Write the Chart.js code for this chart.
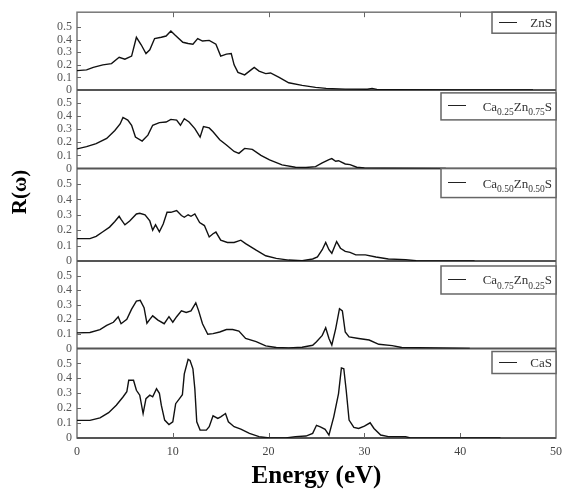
<!DOCTYPE html>
<html>
<head>
<meta charset="utf-8">
<script src="https://cdn.jsdelivr.net/npm/chart.js@4.4.0/dist/chart.umd.min.js"></script>
<style>
  html, body { margin: 0; padding: 0; background: #fff; }
</style>
</head>
<body>
<canvas id="reflectivity" width="569" height="492"></canvas>
<script>
// reflectivity R(w) vs photon energy for the Ca(x)Zn(1-x)S series, one panel per composition
var panelNames = ['ZnS', 'Ca0.25Zn0.75S', 'Ca0.50Zn0.50S', 'Ca0.75Zn0.25S', 'CaS'];

var energyZnS = [0, 1.0, 1.7, 2.7, 3.6, 4.4, 5.0, 5.7, 6.2, 6.7, 7.2, 7.6, 8.1, 8.8, 9.3, 9.8, 10.2, 11.05, 11.6, 12.1,
  12.6, 13.1, 13.8, 14.5, 15.0, 15.6, 16.1, 16.4, 16.8, 17.5, 18.0, 18.5, 19.0, 19.7, 20.2, 21.1, 22.1, 23.5, 24.9, 26.0,
  28.0, 30.3, 30.8, 31.3, 33.0, 40.0, 47.6];
var rZnS = [.154, .16, .18, .20, .21, .26, .245, .27, .42, .36, .29, .32, .41, .42, .43, .47, .44, .38, .37, .365,
  .41, .39, .395, .365, .27, .285, .29, .20, .14, .12, .15, .18, .15, .13, .135, .10, .057, .036, .02, .012,
  .006, .005, .012, .004, .002, 0, 0];

var energyCa25 = [0, 1.0, 2.0, 3.1, 3.95, 4.5, 4.8, 5.3, 5.7, 6.1, 6.8, 7.4, 7.9, 8.6, 9.3, 9.8, 10.4, 10.8, 11.2, 11.7,
  12.3, 12.85, 13.2, 13.8, 14.2, 14.9, 15.6, 16.4, 16.9, 17.5, 18.3, 19.2, 20.1, 21.4, 22.8, 23.9, 24.9, 25.6, 26.3, 26.6,
  27.0, 27.3, 28.0, 28.5, 29.2, 30.0, 32.0, 38.5];
var rCa25 = [.15, .167, .19, .23, .29, .34, .39, .37, .33, .24, .21, .255, .33, .35, .355, .375, .37, .33, .38, .355,
  .305, .24, .32, .31, .28, .22, .18, .13, .116, .154, .146, .10, .066, .028, .01, .008, .015, .043, .068, .076,
  .056, .06, .035, .03, .01, .004, .002, 0];

var energyCa50 = [0, 1.35, 2.0, 2.7, 3.4, 3.95, 4.4, 4.6, 5.0, 5.5, 6.2, 6.55, 7.1, 7.6, 7.9, 8.2, 8.6, 9.0, 9.4, 9.8,
  10.4, 10.9, 11.2, 11.6, 11.9, 12.3, 12.8, 13.3, 13.8, 14.2, 14.5, 15.0, 15.7, 16.4, 17.1, 17.6, 18.7, 19.7, 20.8, 22.1,
  23.5, 24.6, 25.1, 25.6, 25.96, 26.3, 26.6, 27.1, 27.5, 28.0, 28.5, 29.1, 30.1, 31.2, 32.5, 34.3, 35.4, 41.5];
var rCa50 = [.145, .145, .16, .19, .22, .256, .29, .27, .235, .26, .305, .31, .30, .26, .20, .235, .19, .24, .316, .316,
  .327, .295, .284, .30, .29, .305, .25, .23, .156, .177, .188, .135, .12, .12, .135, .113, .07, .034, .017, .006,
  .002, .013, .026, .073, .12, .073, .05, .126, .083, .062, .056, .04, .04, .026, .013, .009, .002, 0];

var energyCa75 = [0, 1.35, 2.4, 3.1, 3.8, 4.3, 4.6, 5.2, 5.7, 6.2, 6.6, 7.0, 7.3, 7.6, 7.9, 8.45, 9.1, 9.6, 10.0, 10.4,
  10.9, 11.4, 11.9, 12.4, 12.7, 13.1, 13.65, 14.2, 14.9, 15.6, 16.25, 16.9, 17.6, 18.7, 19.7, 20.8, 22.1, 23.5, 24.6, 25.0,
  25.6, 25.96, 26.3, 26.6, 27.0, 27.4, 27.7, 28.0, 28.4, 29.4, 30.5, 31.5, 32.9, 33.9, 41.0];
var rCa75 = [.107, .11, .13, .158, .18, .218, .17, .20, .27, .325, .33, .28, .173, .20, .224, .195, .17, .218, .18, .218,
  .258, .247, .258, .313, .258, .17, .098, .102, .113, .13, .13, .12, .069, .047, .018, .007, .004, .009, .022, .047,
  .09, .142, .069, .024, .135, .273, .258, .113, .08, .069, .058, .029, .02, .007, 0];

var energyCaS = [0, 1.35, 2.4, 3.3, 4.1, 4.8, 5.2, 5.4, 5.9, 6.2, 6.55, 6.9, 7.2, 7.6, 7.9, 8.3, 8.6, 8.8, 9.15, 9.6,
  10.0, 10.3, 10.7, 11.0, 11.2, 11.6, 11.8, 12.1, 12.3, 12.5, 12.85, 13.5, 13.8, 14.2, 14.7, 15.0, 15.5, 15.8, 16.4, 17.1,
  18.0, 19.0, 20.1, 21.8, 22.8, 23.9, 24.6, 25.0, 25.4, 25.9, 26.3, 26.8, 27.3, 27.6, 27.85, 28.1, 28.4, 28.9, 29.4, 30.0,
  30.6, 31.0, 31.7, 32.5, 34.3, 34.8, 44.2];
var rCaS = [.118, .118, .135, .17, .22, .275, .31, .387, .387, .32, .287, .164, .264, .287, .276, .33, .30, .22, .12, .09,
  .109, .23, .264, .29, .43, .527, .52, .464, .33, .109, .053, .053, .076, .149, .131, .142, .164, .109, .076, .06,
  .031, .009, 0, 0, .009, .013, .031, .085, .074, .058, .02, .142, .298, .47, .464, .32, .12, .071, .064, .08,
  .102, .064, .02, .009, .009, 0, 0];

var panelEnergy = [energyZnS, energyCa25, energyCa50, energyCa75, energyCaS];
var panelR = [rZnS, rCa25, rCa50, rCa75, rCaS];

var rTicks = [0, 0.1, 0.2, 0.3, 0.4, 0.5];
var energyTicks = [10, 20, 30, 40];
var panelMax = [0.62, 0.6, 0.6, 0.6, 0.6];
var panelWeight = [79, 80, 94, 89, 91];

// legend boxes, one per panel: width, height, drop below panel top
var legendBox = [
  { w: 64, h: 21, dy: 0 },
  { w: 115, h: 27, dy: 3 },
  { w: 115, h: 29, dy: 0 },
  { w: 115, h: 28, dy: 5 },
  { w: 64, h: 22, dy: 3 }
];

var serif = "'Liberation Serif', 'Times New Roman', serif";

var datasets = panelNames.map(function (name, i) {
  return {
    label: name,
    yAxisID: 'y' + i,
    data: panelEnergy[i].map(function (e, k) { return { x: e, y: panelR[i][k] }; }),
    borderColor: '#111',
    borderWidth: 1.4,
    pointRadius: 0,
    fill: false,
    tension: 0
  };
});

var scales = {
  x: {
    type: 'linear',
    position: 'bottom',
    min: 0,
    max: 50,
    afterFit: function (s) { s.height = 54; },
    ticks: {
      stepSize: 10,
      autoSkip: false,
      maxRotation: 0,
      padding: 7,
      color: '#444',
      font: { family: serif, size: 12 }
    },
    grid: { display: false, drawTicks: false },
    border: { display: false },
    title: {
      display: true,
      text: 'Energy (eV)',
      color: '#000',
      padding: { top: 0, bottom: 0 },
      font: { family: serif, size: 25, weight: 'bold' }
    }
  }
};

// stacked left axes are laid out with the last one added on top, so start from the bottom panel
for (var i = panelNames.length - 1; i >= 0; i--) {
  scales['y' + i] = {
    type: 'linear',
    position: 'left',
    stack: 'panels',
    stackWeight: panelWeight[i],
    offset: false,
    min: 0,
    max: panelMax[i],
    afterBuildTicks: function (s) {
      s.ticks = rTicks.map(function (v) { return { value: v }; });
    },
    afterFit: function (s) { s.width = 77; },
    ticks: {
      autoSkip: false,
      padding: 5,
      color: '#555',
      font: { family: serif, size: 12 },
      callback: function (v) { return v === 0 ? '0' : v.toFixed(1); }
    },
    grid: { display: false, drawTicks: false },
    border: { display: false }
  };
}

// frame, panel baselines and inward tick marks, drawn under the curves
var panelFrame = {
  id: 'panelFrame',
  beforeDatasetsDraw: function (chart) {
    var ctx = chart.ctx, a = chart.chartArea;
    ctx.save();
    ctx.strokeStyle = '#777';
    ctx.lineWidth = 1.5;
    ctx.strokeRect(a.left, a.top, a.right - a.left, a.bottom - a.top);

    ctx.strokeStyle = '#555';
    ctx.lineWidth = 2;
    panelNames.forEach(function (n, i) {
      var y0 = chart.scales['y' + i].getPixelForValue(0);
      ctx.beginPath();
      ctx.moveTo(a.left, y0);
      ctx.lineTo(a.right, y0);
      ctx.stroke();
    });

    ctx.strokeStyle = '#666';
    ctx.lineWidth = 1;
    panelNames.forEach(function (n, i) {
      var ys = chart.scales['y' + i];
      rTicks.forEach(function (v) {
        if (v === 0) return;
        var py = Math.round(ys.getPixelForValue(v)) + 0.5;
        ctx.beginPath();
        ctx.moveTo(a.left, py);
        ctx.lineTo(a.left + 4, py);
        ctx.stroke();
      });
    });
    var xs = chart.scales.x;
    energyTicks.forEach(function (e) {
      var px = Math.round(xs.getPixelForValue(e)) + 0.5;
      ctx.beginPath();
      ctx.moveTo(px, a.top);
      ctx.lineTo(px, a.top + 5);
      ctx.moveTo(px, a.bottom);
      ctx.lineTo(px, a.bottom - 5);
      ctx.stroke();
    });
    ctx.restore();
  }
};

// splits "Ca0.25Zn0.75S" into normal and subscript runs
function formulaParts(name) {
  return name.split(/(\d+\.\d+)/).filter(function (p) { return p.length; }).map(function (p) {
    return { text: p, sub: /^\d/.test(p) };
  });
}

var panelLegends = {
  id: 'panelLegends',
  afterDraw: function (chart) {
    var ctx = chart.ctx, a = chart.chartArea;
    ctx.save();
    panelNames.forEach(function (name, i) {
      var b = legendBox[i];
      var top = chart.scales['y' + i].top + b.dy;
      var left = a.right - b.w;
      ctx.fillStyle = '#fff';
      ctx.fillRect(left, top, b.w, b.h);
      ctx.strokeStyle = '#666';
      ctx.lineWidth = 1.5;
      ctx.strokeRect(left, top, b.w, b.h);

      var mid = top + b.h / 2;
      ctx.strokeStyle = '#222';
      ctx.lineWidth = 1;
      ctx.beginPath();
      ctx.moveTo(left + 7, Math.round(mid) - 0.5);
      ctx.lineTo(left + 25, Math.round(mid) - 0.5);
      ctx.stroke();

      var parts = formulaParts(name);
      var mainFont = '13px ' + serif, subFont = '9.5px ' + serif;
      var total = 0;
      parts.forEach(function (p) {
        ctx.font = p.sub ? subFont : mainFont;
        p.w = ctx.measureText(p.text).width;
        total += p.w;
      });
      var x = a.right - 4 - total;
      var base = mid + 4.5;
      ctx.fillStyle = '#333';
      ctx.textBaseline = 'alphabetic';
      ctx.textAlign = 'left';
      parts.forEach(function (p) {
        ctx.font = p.sub ? subFont : mainFont;
        ctx.fillText(p.text, x, p.sub ? base + 4.5 : base);
        x += p.w;
      });
    });

    // vertical axis title shared by all panels
    ctx.translate(21, 192);
    ctx.rotate(-Math.PI / 2);
    ctx.font = 'bold 21px ' + serif;
    ctx.fillStyle = '#000';
    ctx.textAlign = 'center';
    ctx.textBaseline = 'middle';
    ctx.fillText('R(\u03c9)', 0, 0);
    ctx.restore();
  }
};

var ctx = document.getElementById('reflectivity').getContext('2d');
var reflectivityChart = new Chart(ctx, {
  type: 'line',
  data: { datasets: datasets },
  options: {
    responsive: false,
    devicePixelRatio: 1,
    animation: false,
    layout: { padding: { left: 0, right: 12, top: 5, bottom: 0 } },
    plugins: { legend: { display: false }, tooltip: { enabled: false } },
    scales: scales
  },
  plugins: [panelFrame, panelLegends]
});
</script>
</body>
</html>
